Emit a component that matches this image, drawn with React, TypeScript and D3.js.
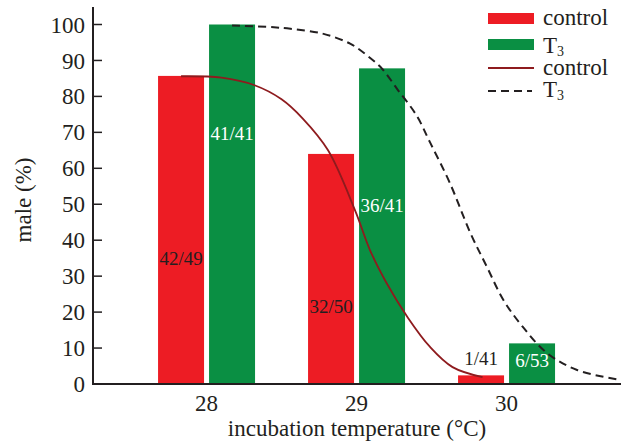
import React from "react";
import * as d3 from "d3";

const temperatures = [28, 29, 30];
const controlValues = [85.7, 64, 2.4];
const t3Values = [100, 87.8, 11.3];
const controlLabels = ["42/49", "32/50", "1/41"];
const t3Labels = ["41/41", "36/41", "6/53"];
const controlLabelAt = [33, 19.7, 5.3];
const t3LabelAt = [67.8, 47.8, 4.7];

const controlCurveT = [27.83, 28.1, 28.32, 28.5, 28.64, 28.81, 28.99, 29.09, 29.2, 29.34, 29.49, 29.64, 29.84];
const controlCurveV = [85.6, 85.2, 83.1, 79.2, 73.9, 65, 48.3, 37.2, 28.1, 18.6, 10.3, 4.7, 1.9];
const t3CurveT = [28.17, 28.42, 28.56, 28.78, 28.96, 29.07, 29.17, 29.27, 29.4, 29.49, 29.62, 29.76, 29.87, 29.98, 30.11, 30.27, 30.47, 30.76];
const t3CurveV = [99.7, 99.3, 98.8, 97.4, 94.6, 91.4, 87.7, 82.1, 74.7, 67.2, 56.1, 41.9, 32.5, 23.3, 15.8, 8.6, 3.9, 1.1];

const yTicks = [0, 10, 20, 30, 40, 50, 60, 70, 80, 90, 100];

const RED = "#ED1C24";
const GREEN = "#0A8F43";
const DARKRED = "#8E1B1E";
const INK = "#231F20";
const FONT = "'Liberation Serif', 'Times New Roman', serif";

export default function App() {
  const x = d3.scaleLinear().domain([27.243, 30.763]).range([93, 621]);
  const y = d3.scaleLinear().domain([0, 100]).range([384, 24.5]);
  const off1 = 0.0167;
  const off2 = 0.3233;

  const line = d3
    .line<[number, number]>()
    .x((d) => x(d[0]))
    .y((d) => y(d[1]))
    .curve(d3.curveCatmullRom.alpha(0.5));

  const controlPath = line(controlCurveT.map((t, i) => [t, controlCurveV[i]]) as [number, number][]) || "";
  const t3Path = line(t3CurveT.map((t, i) => [t, t3CurveV[i]]) as [number, number][]) || "";

  return (
    <svg
      width={628}
      height={444}
      style={{ position: "fixed", left: 0, top: 0, background: "#fff" }}
      fontFamily={FONT}
    >
      <rect width={628} height={444} fill="#fff" />
      {temperatures.map((t, i) => (
        <g key={t}>
          <rect
            x={x(t - off2)}
            width={x(t - off1) - x(t - off2)}
            y={y(controlValues[i])}
            height={y(0) - y(controlValues[i])}
            fill={RED}
          />
          <rect
            x={x(t + off1)}
            width={x(t + off2) - x(t + off1)}
            y={y(t3Values[i])}
            height={y(0) - y(t3Values[i])}
            fill={GREEN}
          />
        </g>
      ))}
      {temperatures.map((t, i) => (
        <g key={"l" + t} fontSize={19} textAnchor="middle">
          <text x={x(t - (off1 + off2) / 2)} y={y(controlLabelAt[i])} fill={INK}>
            {controlLabels[i]}
          </text>
          <text x={x(t + (off1 + off2) / 2)} y={y(t3LabelAt[i])} fill="#fff">
            {t3Labels[i]}
          </text>
        </g>
      ))}
      <path d={controlPath} fill="none" stroke={DARKRED} strokeWidth={1.8} />
      <path d={t3Path} fill="none" stroke={INK} strokeWidth={2} strokeDasharray="8,5" />
      <line x1={93} x2={93} y1={7} y2={385} stroke={INK} strokeWidth={2} />
      <line x1={92} x2={621} y1={384} y2={384} stroke={INK} strokeWidth={2} />
      {yTicks.map((v) => (
        <g key={v}>
          <line x1={93} x2={102} y1={y(v)} y2={y(v)} stroke={INK} strokeWidth={1.5} />
          <text x={85} y={y(v)} dy="0.35em" textAnchor="end" fontSize={23} fill={INK}>
            {v}
          </text>
        </g>
      ))}
      {temperatures.map((t) => (
        <text key={"xt" + t} x={x(t)} y={411} textAnchor="middle" fontSize={23} fill={INK}>
          {t}
        </text>
      ))}
      <text x={357} y={436} textAnchor="middle" fontSize={23} fill={INK}>
        incubation temperature (°C)
      </text>
      <text transform="translate(31,200) rotate(-90)" textAnchor="middle" fontSize={23} fill={INK}>
        male (%)
      </text>
      <g fontSize={23} fill={INK}>
        <rect x={488} y={13} width={46} height={11} fill={RED} />
        <text x={543} y={25}>control</text>
        <rect x={488} y={39} width={46} height={11} fill={GREEN} />
        <text x={543} y={53}>
          T<tspan fontSize={14} dy={3}>3</tspan>
        </text>
        <line x1={488} x2={534} y1={68} y2={68} stroke={DARKRED} strokeWidth={1.8} />
        <text x={543} y={75}>control</text>
        <line x1={488} x2={532} y1={91} y2={91} stroke={INK} strokeWidth={2} strokeDasharray="8,5" />
        <text x={543} y={97}>
          T<tspan fontSize={14} dy={3}>3</tspan>
        </text>
      </g>
    </svg>
  );
}
